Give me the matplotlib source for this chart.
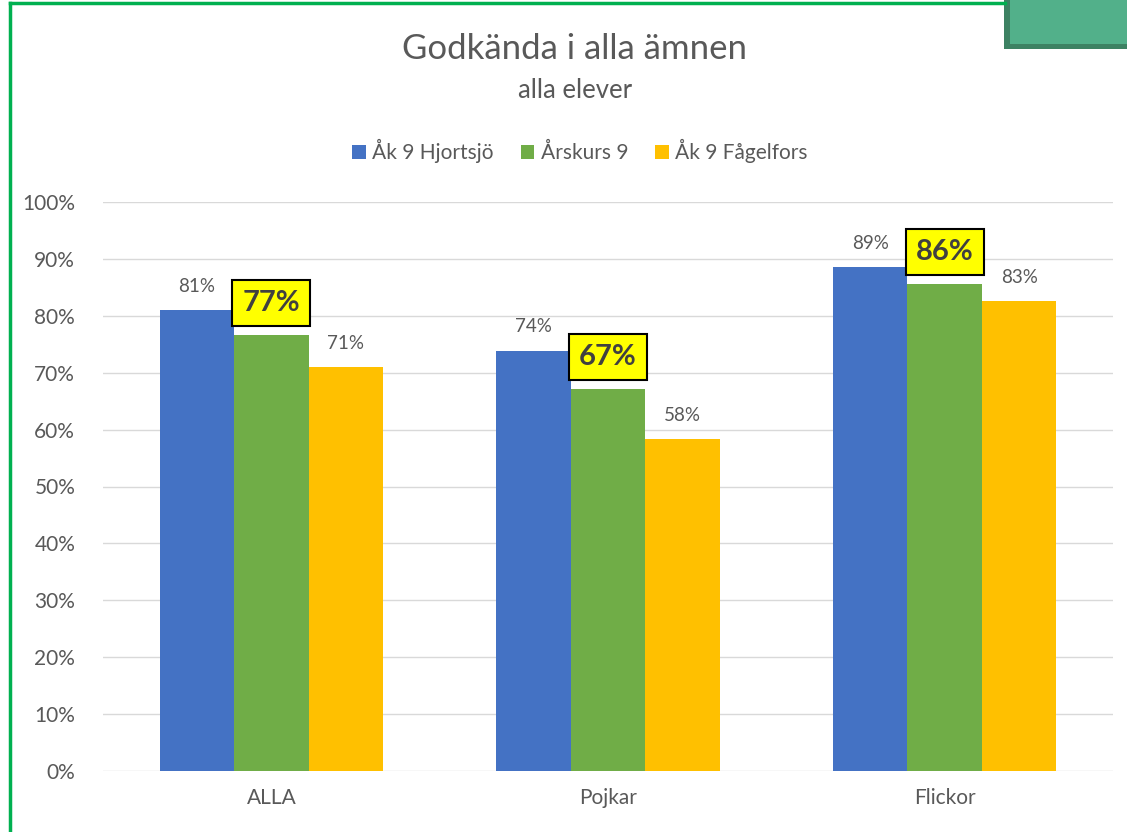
import matplotlib.pyplot as plt
import numpy as np
from matplotlib.patches import Rectangle
from matplotlib.lines import Line2D

# data
categories = ['ALLA', 'Pojkar', 'Flickor']
series = ['Åk 9 Hjortsjö', 'Årskurs 9', 'Åk 9 Fågelfors']
hjortsjo = [81.0, 73.9, 88.6]
arskurs9 = [76.6, 67.1, 85.6]
fagelfors = [71.0, 58.3, 82.6]
yticks = [0, 10, 20, 30, 40, 50, 60, 70, 80, 90, 100]

colors = ['#4472c4', '#70ad47', '#ffc000']
txt = '#595959'

plt.rcParams['font.family'] = ['Lato', 'DejaVu Sans']

W, H = 1127, 832
fig = plt.figure(figsize=(W / 100, H / 100), dpi=100)
ax = fig.add_axes([103 / W, 1 - 771 / H, (1113 - 103) / W, (771 - 202) / H])

x = np.arange(len(categories))
bw = 0.221
values = [hjortsjo, arskurs9, fagelfors]
for i, (vals, c, name) in enumerate(zip(values, colors, series)):
    pos = x + (i - 1) * bw
    ax.bar(pos, vals, width=bw, color=c, label=name, zorder=3)
    for px, v in zip(pos, vals):
        if i == 1:
            # highlighted label in a yellow box
            ax.annotate(f'{v:.0f}%', (px, v), xytext=(0, 23), textcoords='offset points',
                        ha='center', va='center', fontsize=21, fontweight='bold', color='#404040',
                        bbox=dict(boxstyle='square,pad=0.35', fc='#ffff00', ec='black', lw=1.5),
                        zorder=5)
        else:
            ax.annotate(f'{v:.0f}%', (px, v), xytext=(0, 17), textcoords='offset points',
                        ha='center', va='center', fontsize=13.5, color=txt)

ax.set_xlim(-0.5, 2.5)
ax.set_ylim(0, 100)
ax.set_yticks(yticks)
ax.set_yticklabels([f'{t}%' for t in yticks])
ax.set_xticks(x)
ax.set_xticklabels(categories)
ax.tick_params(length=0, labelsize=15, colors=txt)
ax.tick_params(axis='y', pad=20)
ax.tick_params(axis='x', pad=12)
ax.grid(axis='y', color='#d9d9d9', lw=1, zorder=0)
for s in ax.spines.values():
    s.set_visible(False)

fig.text(0.51, 1 - 49 / H, 'Godkända i alla ämnen', ha='center', va='center', fontsize=25, color=txt)
fig.text(0.51, 1 - 90 / H, 'alla elever', ha='center', va='center', fontsize=18.5, color=txt)

fig.legend(loc='center', bbox_to_anchor=(580 / W, 1 - 151 / H), ncol=3, frameon=False,
           fontsize=15, labelcolor=txt, handlelength=0.65, handleheight=0.65,
           handletextpad=0.3, columnspacing=1.3)

# green frame and the box in the corner
fig.add_artist(Line2D([10 / W, 10 / W], [0, 1 - 3 / H], color='#00b050', lw=2.5, transform=fig.transFigure))
fig.add_artist(Line2D([10 / W, 1005 / W], [1 - 3 / H, 1 - 3 / H], color='#00b050', lw=2.5, transform=fig.transFigure))
fig.add_artist(Rectangle((1004 / W, 1 - 49 / H), 130 / W, 49 / H, transform=fig.transFigure,
                         fc='#3d8263', ec='none'))
fig.add_artist(Rectangle((1010 / W, 1 - 44 / H), 130 / W, 44 / H, transform=fig.transFigure,
                         fc='#52b08a', ec='none'))

fig.savefig('out.png', dpi=100)
